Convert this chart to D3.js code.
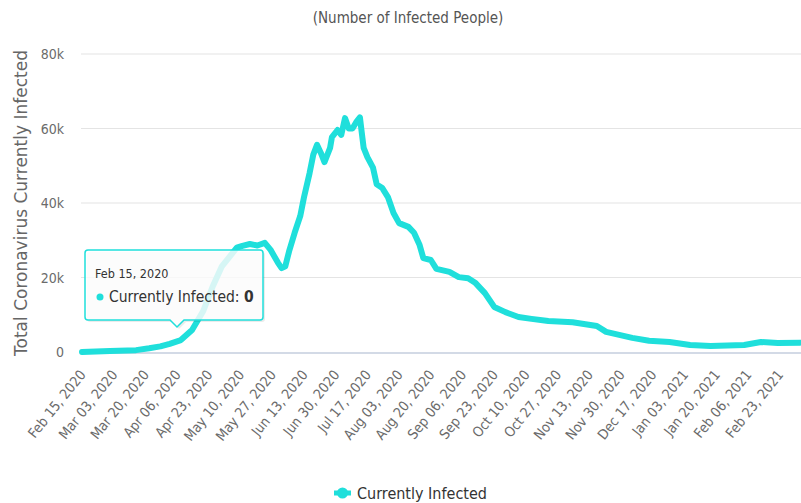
<!DOCTYPE html>
<html><head><meta charset="utf-8">
<script src="https://cdn.jsdelivr.net/npm/d3@7"></script>
<style>
body{margin:0;background:#fff;}
svg{display:block;}
</style></head>
<body>
<svg id="chart" width="801" height="503"></svg>
<script>
const dates = ["2020-02-15","2020-03-01","2020-03-15","2020-03-22","2020-03-28","2020-04-02","2020-04-08","2020-04-14","2020-04-20","2020-04-25","2020-04-30","2020-05-08","2020-05-11","2020-05-15","2020-05-19","2020-05-23","2020-05-26","2020-05-30","2020-06-01","2020-06-03","2020-06-05","2020-06-08","2020-06-11","2020-06-13","2020-06-16","2020-06-18","2020-06-20","2020-06-22","2020-06-24","2020-06-27","2020-06-28","2020-07-01","2020-07-03","2020-07-05","2020-07-07","2020-07-09","2020-07-11","2020-07-13","2020-07-14","2020-07-15","2020-07-17","2020-07-20","2020-07-22","2020-07-25","2020-07-28","2020-07-31","2020-08-03","2020-08-08","2020-08-11","2020-08-14","2020-08-16","2020-08-20","2020-08-23","2020-08-30","2020-09-04","2020-09-09","2020-09-13","2020-09-18","2020-09-23","2020-09-29","2020-10-06","2020-10-13","2020-10-22","2020-11-04","2020-11-17","2020-11-22","2020-11-29","2020-12-06","2020-12-15","2020-12-26","2021-01-06","2021-01-17","2021-02-04","2021-02-13","2021-02-22","2021-03-06"];
const infected = [0,300,500,1000,1500,2200,3200,5900,11000,17500,23000,28000,28500,29000,28600,29300,27500,24000,22500,23000,27000,32000,36500,41500,48000,53000,55600,53500,51000,54800,57700,59600,58300,62800,60000,60000,61700,63000,58800,54800,52300,49500,45000,44000,41600,37300,34600,33600,32000,28700,25200,24700,22300,21500,20100,19800,18500,15800,12100,10700,9400,8900,8300,8000,7000,5400,4600,3800,3000,2700,1900,1600,1900,2700,2400,2500];
const xTickLabels = ["Feb 15, 2020","Mar 03, 2020","Mar 20, 2020","Apr 06, 2020","Apr 23, 2020","May 10, 2020","May 27, 2020","Jun 13, 2020","Jun 30, 2020","Jul 17, 2020","Aug 03, 2020","Aug 20, 2020","Sep 06, 2020","Sep 23, 2020","Oct 10, 2020","Oct 27, 2020","Nov 13, 2020","Nov 30, 2020","Dec 17, 2020","Jan 03, 2021","Jan 20, 2021","Feb 06, 2021","Feb 23, 2021"];
const yTicks = [0,20000,40000,60000,80000];
const yTickLabels = ["0","20k","40k","60k","80k"];
const seriesName = "Currently Infected";
const chartTitle = "(Number of Infected People)";
const yAxisTitle = "Total Coronavirus Currently Infected";

const parse = d3.timeParse("%Y-%m-%d");
const parseTick = d3.timeParse("%b %d, %Y");
const data = dates.map((d,i)=>({date:parse(d), value:infected[i]}));
const color = "#1fdfdb";
const font = "'DejaVu Sans Condensed','DejaVu Sans',sans-serif";

const svg = d3.select("#chart");
const x = d3.scaleTime().domain([parse("2020-02-15"), parse("2021-03-07")]).range([82, 802]);
const y = d3.scaleLinear().domain([0,80000]).range([352, 54]);

// title
svg.append("text").attr("x",408).attr("y",23).attr("text-anchor","middle")
  .attr("font-family",font).attr("font-size",15).attr("fill","#555").text(chartTitle);

// gridlines
svg.append("g").selectAll("line").data(yTicks.slice(1)).join("line")
  .attr("x1",81).attr("x2",801).attr("y1",d=>y(d)).attr("y2",d=>y(d))
  .attr("stroke","#e4e4e4").attr("stroke-width",1.2);

// y axis labels
const yAxis = d3.axisLeft(y).tickValues(yTicks).tickFormat((d,i)=>yTickLabels[i]).tickSize(0).tickPadding(0);
const gy = svg.append("g").attr("transform","translate(64,0)").call(yAxis);
gy.select(".domain").remove();
gy.selectAll("text").attr("font-family",font).attr("font-size",14).attr("fill","#6b6b6b").attr("dy","0.35em");

// y axis title
svg.append("text").attr("transform","translate(27,203) rotate(-90)").attr("text-anchor","middle")
  .attr("font-family","'DejaVu Sans',sans-serif").attr("font-size",17).attr("fill","#666").text(yAxisTitle);

// x axis
const xTicks = xTickLabels.map(parseTick);
const xAxis = d3.axisBottom(x).tickValues(xTicks).tickFormat((d,i)=>xTickLabels[i]).tickSize(0).tickPadding(0);
const gx = svg.append("g").attr("transform","translate(0,353)").call(xAxis);
gx.select(".domain").remove();
gx.selectAll("text").attr("font-family",font).attr("font-size",14).attr("fill","#6b6b6b")
  .attr("text-anchor","end").attr("dy",0).attr("y",0)
  .attr("transform","translate(4,22) rotate(-51)");
svg.append("line").attr("x1",81).attr("x2",801).attr("y1",353).attr("y2",353)
  .attr("stroke","#d3dae6").attr("stroke-width",2);

// line
const line = d3.line().x(d=>x(d.date)).y(d=>y(d.value)).curve(d3.curveLinear);
svg.append("path").datum(data).attr("d",line).attr("fill","none")
  .attr("stroke",color).attr("stroke-width",6).attr("stroke-linejoin","round").attr("stroke-linecap","round");

// tooltip
const tt = svg.append("g");
const tx=85, ty=250, tw=178, th=70, px=177;
const tpath = `M${tx+3},${ty} H${tx+tw-3} Q${tx+tw},${ty} ${tx+tw},${ty+3} V${ty+th-3} Q${tx+tw},${ty+th} ${tx+tw-3},${ty+th} H${px+7} L${px},${ty+th+7} L${px-7},${ty+th} H${tx+3} Q${tx},${ty+th} ${tx},${ty+th-3} V${ty+3} Q${tx},${ty} ${tx+3},${ty} Z`;
tt.append("path").attr("d",tpath).attr("transform","translate(2,2)").attr("fill","rgba(0,0,0,0.08)");
tt.append("path").attr("d",tpath).attr("fill","rgba(255,255,255,0.82)").attr("stroke",color).attr("stroke-width",1.5);
tt.append("text").attr("x",95).attr("y",278).attr("font-family",font).attr("font-size",12.5).attr("fill","#333")
  .text(d3.timeFormat("%b %d, %Y")(data[0].date));
tt.append("circle").attr("cx",100).attr("cy",297).attr("r",3.5).attr("fill",color);
const t2 = tt.append("text").attr("x",109).attr("y",302).attr("font-family",font).attr("font-size",15.5).attr("fill","#333");
t2.append("tspan").text(seriesName + ": ");
t2.append("tspan").attr("font-weight","bold").text(d3.format(",")(data[0].value));

// legend
const lg = svg.append("g");
lg.append("line").attr("x1",334).attr("x2",351).attr("y1",493).attr("y2",493).attr("stroke",color).attr("stroke-width",5);
lg.append("circle").attr("cx",342.5).attr("cy",493).attr("r",5.5).attr("fill",color);
lg.append("text").attr("x",357).attr("y",499).attr("font-family",font).attr("font-size",16).attr("fill","#333").text(seriesName);
</script>
</body></html>
